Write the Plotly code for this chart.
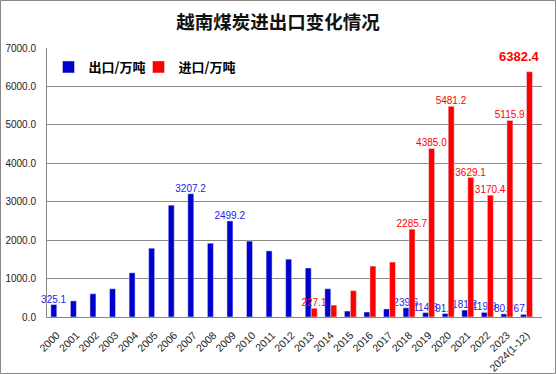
import plotly.graph_objects as go

years = ["2000", "2001", "2002", "2003", "2004", "2005", "2006", "2007", "2008", "2009",
         "2010", "2011", "2012", "2013", "2014", "2015", "2016", "2017", "2018", "2019",
         "2020", "2021", "2022", "2023", "2024(1-12)"]
exports = [325.1, 420, 605, 735, 1150, 1790, 2910, 3207.2, 1920, 2499.2,
           1975, 1720, 1505, 1275, 735, 155, 130, 210, 239.6, 114.3,
           91.0, 181.2, 119.9, 80.7, 67.4]
imports = [0, 0, 0, 0, 0, 0, 0, 0, 0, 0,
           0, 0, 0, 227.1, 310, 685, 1325, 1430, 2285.7, 4385.0,
           5481.2, 3629.1, 3170.4, 5115.9, 6382.4]
export_labeled = {"2000", "2007", "2009", "2018", "2019", "2020", "2021", "2022", "2023", "2024(1-12)"}
import_labeled = {"2013", "2018", "2019", "2020", "2021", "2022", "2023"}
highlight_year = "2024(1-12)"

exp_text = [f"{v:.1f}" if y in export_labeled else "" for y, v in zip(years, exports)]
imp_text = [f"{v:.1f}" if y in import_labeled else "" for y, v in zip(years, imports)]

fig = go.Figure()
fig.add_trace(go.Bar(
    x=years, y=exports, name="<b>出口/万吨</b>", marker_color="#0000CC",
    text=exp_text, textposition="outside", constraintext="none", cliponaxis=False,
    textfont=dict(color="#2222EE", size=10, family="Liberation Sans"),
    legend="legend", showlegend=True,
))
fig.add_trace(go.Bar(
    x=years, y=imports, name="<b>进口/万吨</b>", marker_color="#FF0000",
    text=imp_text, textposition="outside", constraintext="none", cliponaxis=False,
    textfont=dict(color="#FF0000", size=10, family="Liberation Sans"),
    legend="legend2", showlegend=True,
))

hi_val = imports[years.index(highlight_year)]
fig.add_annotation(x=highlight_year, y=hi_val, text=f"<b>{hi_val:.1f}</b>", showarrow=False,
                   xanchor="center", yanchor="bottom", xshift=-7, yshift=6,
                   font=dict(color="#FF0000", size=13, family="Liberation Sans"))

L, R, T, B = 47, 14, 48, 57
W, H = 556, 374
pw, ph = W - L - R, H - T - B

legend_common = dict(orientation="h", y=(317 - 67) / ph, xanchor="left", yanchor="middle",
                     font=dict(family="Noto Sans CJK SC", size=13, color="#000000"),
                     bgcolor="rgba(0,0,0,0)", itemwidth=30, visible=True)

fig.update_layout(
    width=W, height=H,
    showlegend=True,
    margin=dict(l=L, r=R, t=T, b=B, autoexpand=False),
    paper_bgcolor="white", plot_bgcolor="white",
    barmode="group", bargap=0.39, bargroupgap=0,
    title=dict(text="<b>越南煤炭进出口变化情况</b>", x=0.5, xanchor="center", y=1 - 23 / H, yanchor="middle",
               font=dict(family="Noto Sans CJK SC", size=18.5, color="#111111")),
    legend=dict(x=(48.5 - L) / pw, **legend_common),
    legend2=dict(x=(138.5 - L) / pw, **legend_common),
    font=dict(family="Liberation Sans", size=10, color="#222222"),
    xaxis=dict(tickangle=-45, showline=True, linecolor="#888888", linewidth=1,
               tickfont=dict(size=10.5, family="Liberation Sans", color="#222222"),
               showgrid=False, ticks="", ticklabelstandoff=7, automargin=False),
    yaxis=dict(range=[0, 7000], dtick=1000, tickformat=".1f", showline=True, linecolor="#888888",
               linewidth=1, gridcolor="#888888", gridwidth=1, zeroline=False,
               tickfont=dict(size=10, family="Liberation Sans", color="#222222"),
               ticklabelstandoff=8, automargin=False),
    shapes=[dict(type="rect", xref="paper", yref="paper",
                 x0=(0.5 - L) / pw, x1=(W - 0.5 - L) / pw,
                 y0=-(H - 0.5 - (T + ph)) / ph, y1=1 + (T - 0.5) / ph,
                 line=dict(color="#888888", width=1), layer="above")],
)

fig.write_html("out.html", config={"displayModeBar": False},
               post_script="document.body.style.margin='0';")
